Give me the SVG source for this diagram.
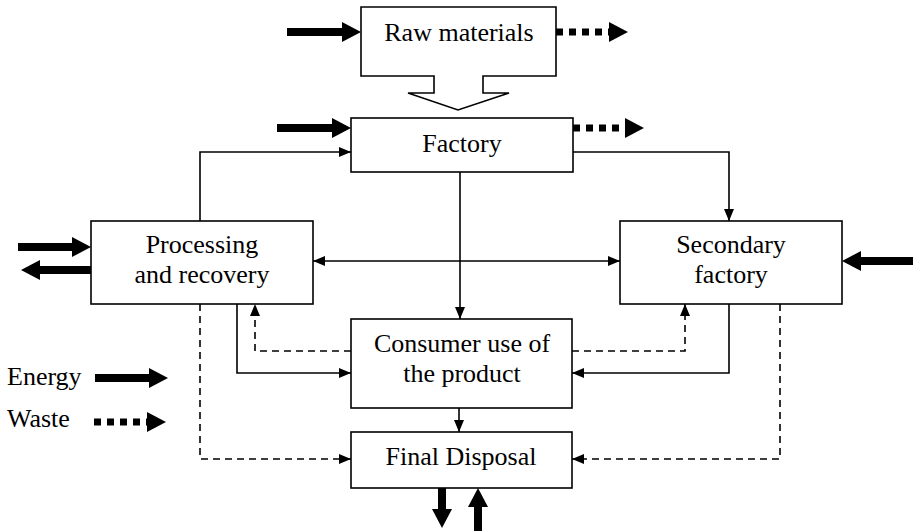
<svg xmlns="http://www.w3.org/2000/svg" width="915" height="531" viewBox="0 0 915 531">
  <style>
    .box { fill: #fff; stroke: #000; stroke-width: 1.6; }
    .lbl { text-anchor: middle; }
    .flow { fill: none; stroke: #000; stroke-width: 1.6; marker-end: url(#tip); }
    .dash { fill: none; stroke: #000; stroke-width: 1.6; stroke-dasharray: 7 5; marker-end: url(#tip); }
    .energy { stroke: #000; stroke-width: 8; marker-end: url(#bigTip); }
    .waste { stroke: #000; stroke-width: 7; stroke-dasharray: 7 6; marker-end: url(#bigTip); }
  </style>
  <defs>
    <!-- small arrowhead, tip sits on the path end -->
    <marker id="tip" viewBox="0 0 12 10" refX="12" refY="5" markerWidth="12" markerHeight="10" markerUnits="userSpaceOnUse" orient="auto-start-reverse">
      <path d="M0,0 L12,5 L0,10 Z" fill="#000"/>
    </marker>
    <!-- wide arrowhead for energy / waste, base sits on the line end -->
    <marker id="bigTip" viewBox="0 0 19 20" refX="0" refY="10" markerWidth="19" markerHeight="20" markerUnits="userSpaceOnUse" orient="auto">
      <path d="M0,0 L19,10 L0,20 Z" fill="#000"/>
    </marker>
  </defs>

  <!-- material flow connectors -->
  <g id="connectors">
    <path class="flow" d="M200,221 V152 H351"/>
    <path class="flow" d="M573,152 H729 V221"/>
    <path class="flow" d="M460,172 V319"/>
    <path class="flow" d="M313,261 H620" style="marker-start:url(#tip)"/>
    <path class="flow" d="M237,304 V373 H351"/>
    <path class="flow" d="M729,304 V373 H572"/>
    <path class="flow" d="M459,408 V432"/>
    <path class="dash" d="M351,351 H255 V304"/>
    <path class="dash" d="M572,351 H685 V304"/>
    <path class="dash" d="M200,304 V459 H351"/>
    <path class="dash" d="M780,304 V459 H572"/>
  </g>

  <!-- energy and waste streams -->
  <g id="streams">
    <line class="energy" x1="287" y1="32" x2="342" y2="32"/>
    <line class="waste" x1="556" y1="32" x2="609" y2="32"/>
    <line class="energy" x1="277" y1="128" x2="332" y2="128"/>
    <line class="waste" x1="573" y1="128" x2="625" y2="128"/>
    <line class="energy" x1="18" y1="247" x2="72" y2="247"/>
    <line class="energy" x1="91" y1="270" x2="40" y2="270"/>
    <line class="energy" x1="913" y1="261" x2="861" y2="261"/>
    <line class="energy" x1="442" y1="488" x2="442" y2="509"/>
    <line class="energy" x1="478" y1="531" x2="478" y2="507"/>
  </g>

  <g font-family="Times New Roman, Liberation Serif, DejaVu Serif, serif" font-size="26" fill="#000">
    <g id="raw-materials">
      <path class="box" d="M361,7 H556 V76 H483 V93 H509 L458,110 L408,93 H434 V76 H361 Z"/>
      <text class="lbl" x="459" y="41">Raw materials</text>
    </g>

    <g id="factory">
      <rect class="box" x="351" y="118" width="222" height="54"/>
      <text class="lbl" x="462" y="152">Factory</text>
    </g>

    <g id="processing">
      <rect class="box" x="91" y="221" width="222" height="83"/>
      <text class="lbl" x="202" y="253">Processing</text>
      <text class="lbl" x="202" y="283">and recovery</text>
    </g>

    <g id="secondary-factory">
      <rect class="box" x="620" y="221" width="222" height="83"/>
      <text class="lbl" x="731" y="253">Secondary</text>
      <text class="lbl" x="731" y="283">factory</text>
    </g>

    <g id="consumer">
      <rect class="box" x="351" y="319" width="221" height="89"/>
      <text class="lbl" x="462" y="352">Consumer use of</text>
      <text class="lbl" x="462" y="382">the product</text>
    </g>

    <g id="final-disposal">
      <rect class="box" x="351" y="432" width="221" height="56"/>
      <text class="lbl" x="461" y="465">Final Disposal</text>
    </g>

    <g id="legend">
      <text x="7" y="385">Energy</text>
      <line class="energy" x1="95" y1="378" x2="149" y2="378"/>
      <text x="7" y="427">Waste</text>
      <line class="waste" x1="94" y1="422" x2="147" y2="422"/>
    </g>
  </g>
</svg>
